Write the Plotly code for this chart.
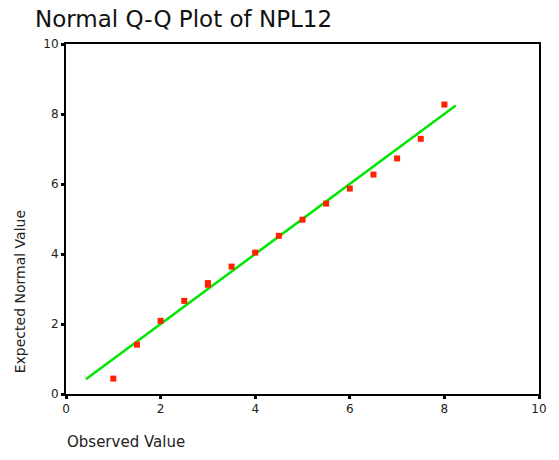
import plotly.graph_objects as go

observed = [1.0, 1.5, 2.0, 2.5, 3.0, 3.0, 3.5, 4.0, 4.5, 5.0, 5.5, 6.0, 6.5, 7.0, 7.5, 8.0]
expected = [0.44, 1.41, 2.09, 2.66, 3.17, 3.12, 3.64, 4.04, 4.52, 4.98, 5.44, 5.87, 6.27, 6.73, 7.29, 8.27]
line_x = [0.42, 8.24]
line_y = [0.42, 8.24]
x_ticks = [0, 2, 4, 6, 8, 10]
y_ticks = [0, 2, 4, 6, 8, 10]

fig = go.Figure()
fig.add_trace(go.Scatter(x=line_x, y=line_y, mode="lines",
                         line=dict(color="#00e600", width=2.5), showlegend=False))
fig.add_trace(go.Scatter(x=observed, y=expected, mode="markers",
                         marker=dict(symbol="square", size=6, color="#ff2200", line=dict(width=0)),
                         showlegend=False))

font = "DejaVu Sans"
fig.update_layout(
    width=559, height=460,
    margin=dict(l=66, r=17, t=44, b=66),
    paper_bgcolor="white", plot_bgcolor="white",
    font=dict(family=font, color="#222"),
    title=dict(text="Normal Q-Q Plot of NPL12", x=35/559, xanchor="left",
               y=1-19/460, yanchor="middle", font=dict(size=23, color="#111", family=font)),
    xaxis=dict(range=[0, 10], tickvals=x_ticks, showgrid=False, zeroline=False,
               showline=True, linecolor="black", linewidth=2, mirror=True,
               ticks="outside", ticklen=3, tickwidth=3, tickcolor="black",
               tickfont=dict(size=12, color="#222")),
    yaxis=dict(range=[0, 10], tickvals=y_ticks, showgrid=False, zeroline=False,
               showline=True, linecolor="black", linewidth=2, mirror=True,
               ticks="outside", ticklen=3, tickwidth=3, tickcolor="black",
               tickfont=dict(size=12, color="#222")),
    annotations=[
        dict(text="Observed Value", xref="paper", yref="paper", x=-1/476, y=-48/350,
             xanchor="left", yanchor="middle", showarrow=False, font=dict(size=15, color="#222")),
        dict(text="Expected Normal Value", xref="paper", yref="paper", x=-46/476, y=(394-292)/350,
             xanchor="center", yanchor="middle", textangle=-90, showarrow=False,
             font=dict(size=14, color="#222")),
    ],
)
fig.write_html("out.html")
